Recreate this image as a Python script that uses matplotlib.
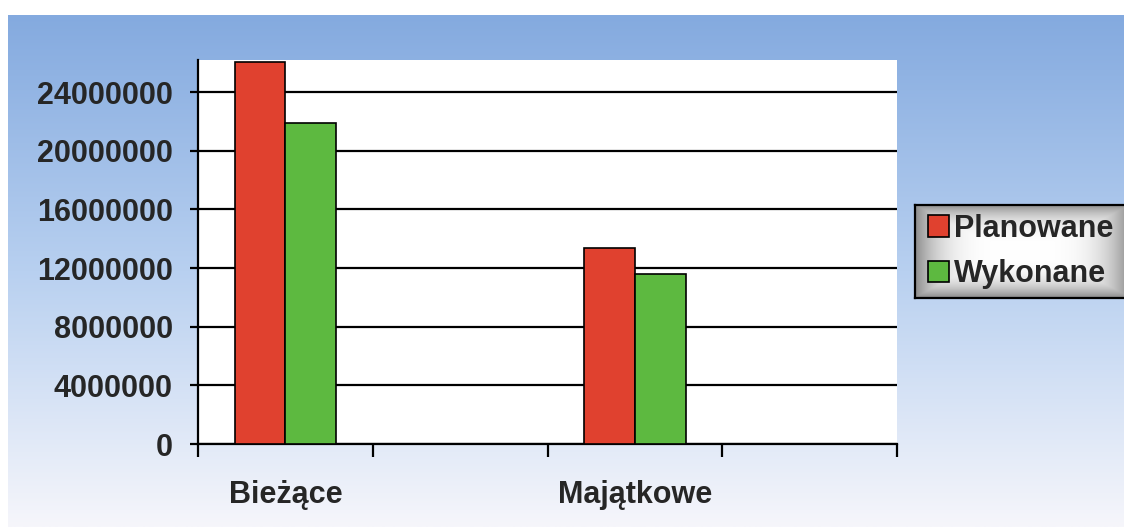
import matplotlib
matplotlib.use("Agg")
import matplotlib.pyplot as plt
import numpy as np
from matplotlib.patches import Patch

categories = ["Bieżące", "", "Majątkowe", ""]
planowane = [26050000, np.nan, 13400000, np.nan]
wykonane = [21900000, np.nan, 11600000, np.nan]
series_names = ["Planowane", "Wykonane"]
yticks = [0, 4000000, 8000000, 12000000, 16000000, 20000000, 24000000]

RED = "#e0412f"
GREEN = "#5db940"
TEXT = "#262626"

plt.rcParams["font.family"] = ["Liberation Sans", "DejaVu Sans"]
plt.rcParams["font.weight"] = "bold"

W, H = 1124, 527
fig = plt.figure(figsize=(W / 100, H / 100), dpi=100)
fig.patch.set_facecolor("white")

# blue gradient backdrop
bg = fig.add_axes([8 / W, 0, 1 - 8 / W, 1 - 15 / H])
top = np.array([132, 170, 223]) / 255
mid = np.array([184, 208, 240]) / 255
bot = np.array([246, 246, 251]) / 255
t = np.linspace(0, 1, 300)[:, None]
grad = np.where(t < 0.5, top + (mid - top) * (t / 0.5), mid + (bot - mid) * ((t - 0.5) / 0.5))
bg.imshow(grad[:, None, :].repeat(2, axis=1), aspect="auto", extent=[0, 1, 0, 1])
bg.set_axis_off()

# plot area
ax = fig.add_axes([198 / W, 1 - 444 / H, (897 - 198) / W, (444 - 60) / H])
ax.set_facecolor("white")
x = np.arange(len(categories))
bw = 0.29
ax.bar(x - bw / 2, planowane, bw, color=RED, edgecolor="black", linewidth=1.2, zorder=3)
ax.bar(x + bw / 2, wykonane, bw, color=GREEN, edgecolor="black", linewidth=1.2, zorder=3)

ax.set_xlim(-0.5, len(categories) - 0.5)
ax.set_ylim(0, 26200000)
ax.set_yticks(yticks)
ax.set_yticklabels([str(v) for v in yticks], fontsize=22, fontweight="bold", color=TEXT)
ax.yaxis.grid(True, color="black", linewidth=1.6, zorder=1)
ax.set_axisbelow(True)

ax.set_xticks(np.arange(len(categories) + 1) - 0.5)
ax.set_xticklabels([])
ax.set_xticks(x, minor=True)
ax.set_xticklabels(categories, minor=True, fontsize=22, fontweight="bold", color=TEXT)
ax.tick_params(axis="x", which="major", direction="out", length=9, width=1.6)
ax.tick_params(axis="x", which="minor", length=0, pad=26)
ax.tick_params(axis="y", direction="out", length=6, width=1.6, pad=12)

for s in ["top", "right"]:
    ax.spines[s].set_visible(False)
for s in ["left", "bottom"]:
    ax.spines[s].set_linewidth(1.6)

# legend box with gray gradient
lx0, lx1, ly0, ly1 = 915, 1130, 205, 298
lax = fig.add_axes([lx0 / W, 1 - ly1 / H, (lx1 - lx0) / W, (ly1 - ly0) / H])
v = np.abs(np.linspace(-1, 1, 100))[:, None]
h = np.abs(np.linspace(-1, 1, 200))[None, :]
shade = 1 - 0.45 * np.maximum(v ** 3, h ** 4)
lax.imshow(np.dstack([shade] * 3), aspect="auto", extent=[0, 1, 0, 1], vmin=0, vmax=1)
lax.set_xticks([])
lax.set_yticks([])
for s in lax.spines.values():
    s.set_linewidth(1.6)
handles = [Patch(facecolor=RED, edgecolor="black", linewidth=1.2),
           Patch(facecolor=GREEN, edgecolor="black", linewidth=1.2)]
lax.legend(handles, series_names, loc="center left", bbox_to_anchor=(0.03, 0.5),
           frameon=False, prop={"size": 22, "weight": "bold"},
           handlelength=0.7, handleheight=0.7, handletextpad=0.15,
           labelspacing=0.5, borderaxespad=0.0, borderpad=0.2, labelcolor=TEXT)

fig.savefig("out.png", dpi=100)
